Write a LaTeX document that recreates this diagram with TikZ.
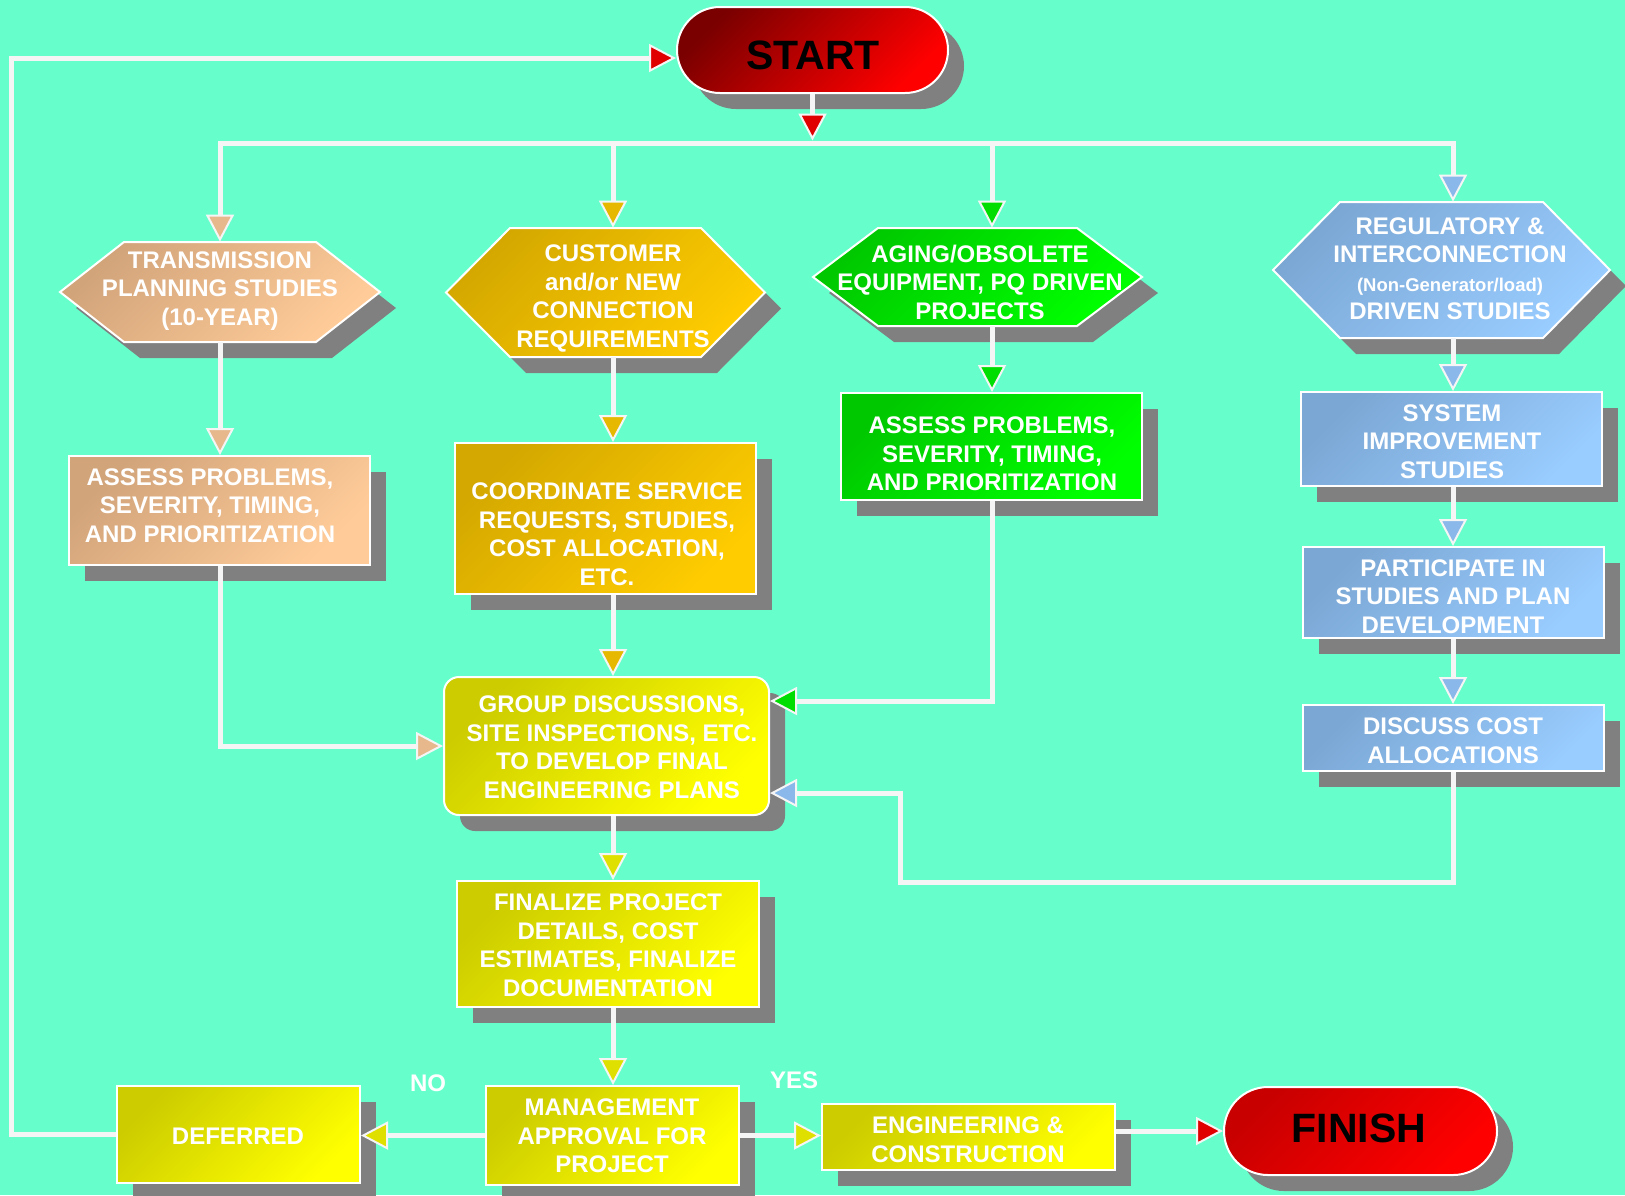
\documentclass[tikz,border=0pt]{standalone}
\usepackage{fontspec}
\setmainfont{Liberation Sans}
\usetikzlibrary{arrows.meta,shapes.misc,shadows,calc}
\definecolor{bg}{HTML}{66FFCC}
\definecolor{linec}{HTML}{F5F5F5}
\definecolor{shadowc}{HTML}{808080}
\definecolor{peachA}{HTML}{D2A47A}
\definecolor{peachB}{HTML}{FFCC99}
\definecolor{peachT}{HTML}{E6B88C}
\definecolor{goldA}{HTML}{D4A800}
\definecolor{goldB}{HTML}{FFCC00}
\definecolor{goldT}{HTML}{E6B800}
\definecolor{greenA}{HTML}{00C800}
\definecolor{greenB}{HTML}{00FF00}
\definecolor{greenT}{HTML}{00DD00}
\definecolor{blueA}{HTML}{7BA7D4}
\definecolor{blueB}{HTML}{99CCFF}
\definecolor{blueT}{HTML}{8AB8EA}
\definecolor{yelA}{HTML}{CCCC00}
\definecolor{yelB}{HTML}{FFFF00}
\definecolor{yelT}{HTML}{E0E000}
\definecolor{redA}{HTML}{7A0000}
\definecolor{redB}{HTML}{FF0000}
\definecolor{finA}{HTML}{C80000}
\definecolor{redT}{HTML}{E00000}
\tikzset{
  conn/.style={draw=linec, line width=2.5pt},
  arr/.style={-{Triangle[width=14pt,length=13.5pt,line width=1pt,fill=#1]}},
  txt/.style={text=white, font=\fontsize{12}{14.25}\selectfont\bfseries, align=center, inner sep=0pt},
  bigtxt/.style={text=black, font=\fontsize{20.5}{24}\selectfont\bfseries, inner sep=0pt},
  shd/.style 2 args={top color=#1, bottom color=#2, shading angle=45},
  box/.style={draw=white, line width=1pt, inner sep=0pt,
    drop shadow={shadow xshift=8pt, shadow yshift=-8pt, fill=shadowc, opacity=1}},
  pill/.style={rounded rectangle, draw=white, line width=1pt, inner sep=0pt,
    drop shadow={shadow xshift=8pt, shadow yshift=-8pt, fill=shadowc, opacity=1}},
}
% name, cx, cy, half width, inset, half height, colour A, colour B
\newcommand\hexa[8]{%
  \fill[shadowc] ({#2-#4+16},{#3+16}) -- ({#2-#4+#5+16},{#3-#6+16}) -- ({#2+#4-#5+16},{#3-#6+16})
    -- ({#2+#4+16},{#3+16}) -- ({#2+#4-#5+16},{#3+#6+16}) -- ({#2-#4+#5+16},{#3+#6+16}) -- cycle;
  \path[draw=white, line width=1pt, shd={#7}{#8}] ({#2-#4},{#3}) -- ({#2-#4+#5},{#3-#6}) -- ({#2+#4-#5},{#3-#6})
    -- ({#2+#4},{#3}) -- ({#2+#4-#5},{#3+#6}) -- ({#2-#4+#5},{#3+#6}) -- cycle;
  \node[minimum width=#4pt, minimum height=#6pt, inner sep=0pt] (#1) at (#2,#3) {};
}
\begin{document}
\begin{tikzpicture}[x=0.5pt, y=-0.5pt]
\fill[bg] (0,0) rectangle (1625,1195);
\useasboundingbox (0,0) rectangle (1625,1195);

% START
\node[pill, shd={redA}{redB}, minimum width=135.5pt, minimum height=43pt] (start) at (812.5,50) {};
\node[bigtxt] (startt) at (813,55) {START};

% bus coordinates
\coordinate (bT) at (220,143);
\coordinate (bC) at (613,143);
\coordinate (bS) at (812.5,143);
\coordinate (bA) at (992,143);
\coordinate (bR) at (1453,143);

% hexagons
\hexa{trans}{220}{292}{160}{64}{50}{peachA}{peachB}
\node[txt] (transt) at (220,291) {TRANSMISSION\\PLANNING STUDIES\\(10-YEAR)};
\hexa{cust}{605.5}{292.5}{159.5}{64}{64.5}{goldA}{goldB}
\node[txt] (custt) at (613,298.5) {CUSTOMER\\and/or NEW\\CONNECTION\\REQUIREMENTS};
\hexa{aging}{977.5}{277}{164.5}{65}{49}{greenA}{greenB}
\node[txt] (agingt) at (980,282) {AGING/OBSOLETE\\EQUIPMENT, PQ DRIVEN\\PROJECTS};
\hexa{reg}{1441.5}{270}{168.5}{67}{68}{blueA}{blueB}
\node[txt] (regt) at (1450,268.5) {REGULATORY \&\\INTERCONNECTION\\{\fontsize{9.25}{14.25}\selectfont (Non-Generator/load)}\\DRIVEN STUDIES};

% boxes
\node[box, shd={peachA}{peachB}, minimum width=150.5pt, minimum height=54.5pt] (assT) at (219.5,510.5) {};
\node[txt] (assTt) at (210,505.5) {ASSESS PROBLEMS,\\SEVERITY, TIMING,\\AND PRIORITIZATION};
\node[box, shd={goldA}{goldB}, minimum width=150.5pt, minimum height=75.5pt] (coord) at (605.5,518.5) {};
\node[txt] (coordt) at (607,534) {COORDINATE SERVICE\\REQUESTS, STUDIES,\\COST ALLOCATION,\\ETC.};
\node[box, shd={greenA}{greenB}, minimum width=150.5pt, minimum height=53.5pt] (assA) at (991.5,446.5) {};
\node[txt] (assAt) at (992,454) {ASSESS PROBLEMS,\\SEVERITY, TIMING,\\AND PRIORITIZATION};
\node[box, shd={blueA}{blueB}, minimum width=150.5pt, minimum height=47pt] (sys) at (1451.5,439) {};
\node[txt] (syst) at (1452,441.5) {SYSTEM\\IMPROVEMENT\\STUDIES};
\node[box, shd={blueA}{blueB}, minimum width=150.5pt, minimum height=45.5pt] (part) at (1453.5,592.5) {};
\node[txt] (partt) at (1453,596.5) {PARTICIPATE IN\\STUDIES AND PLAN\\DEVELOPMENT};
\node[box, shd={blueA}{blueB}, minimum width=150.5pt, minimum height=33pt] (disc) at (1453.5,738) {};
\node[txt] (disct) at (1453,740.5) {DISCUSS COST\\ALLOCATIONS};
\node[box, rounded corners=7.5pt, shd={yelA}{yelB}, minimum width=162.5pt, minimum height=69pt] (grp) at (606.5,746) {};
\node[txt] (grpt) at (612,747) {GROUP DISCUSSIONS,\\SITE INSPECTIONS, ETC.\\TO DEVELOP FINAL\\ENGINEERING PLANS};
\node[box, shd={yelA}{yelB}, minimum width=151pt, minimum height=63pt] (fin) at (608,944) {};
\node[txt] (fint) at (608,945) {FINALIZE PROJECT\\DETAILS, COST\\ESTIMATES, FINALIZE\\DOCUMENTATION};
\node[box, shd={yelA}{yelB}, minimum width=126.5pt, minimum height=49.5pt] (mgmt) at (612.5,1135.5) {};
\node[txt] (mgmtt) at (612,1136) {MANAGEMENT\\APPROVAL FOR\\PROJECT};
\node[box, shd={yelA}{yelB}, minimum width=121.5pt, minimum height=48.5pt] (def) at (238.5,1134.5) {};
\node[txt] (deft) at (238,1136) {DEFERRED};
\node[box, shd={yelA}{yelB}, minimum width=146.5pt, minimum height=33pt] (eng) at (968.5,1137) {};
\node[txt] (engt) at (968,1139.5) {ENGINEERING \&\\CONSTRUCTION};
\node[pill, shd={finA}{redB}, minimum width=136.5pt, minimum height=44pt] (finish) at (1360.5,1131) {};
\node[bigtxt] (finisht) at (1359,1128) {FINISH};

% labels
\node[txt] (no) at (428,1083) {NO};
\node[txt] (yes) at (794,1080) {YES};

% connectors
\draw[conn, line cap=rect] (bT) -- (bR);
\draw[conn, arr=redT] (start.south) -- ($(bS)+(0,-2.5)$);
\draw[conn, arr=peachT] (bT) -- (bT |- trans.north);
\draw[conn, arr=peachT] (trans.south -| bT) -- (assT.north -| bT);
\draw[conn, arr=peachT] (assT.south -| bT) -- (bT |- grp.west) -- (grp.west);
\draw[conn, arr=goldT] (bC) -- (bC |- cust.north);
\draw[conn, arr=goldT] (cust.south -| bC) -- (coord.north -| bC);
\draw[conn, arr=goldT] (coord.south -| bC) -- (grp.north -| bC);
\coordinate (gIn) at (grp.east |- 0,701);
\draw[conn, arr=greenT] (bA) -- (bA |- aging.north);
\draw[conn, arr=greenT] (aging.south -| bA) -- (assA.north -| bA);
\draw[conn, arr=greenT] (assA.south -| bA) -- (bA |- gIn) -- (gIn);
\draw[conn, arr=blueT] (bR) -- (bR |- reg.north);
\draw[conn, arr=blueT] (reg.south -| bR) -- (sys.north -| bR);
\draw[conn, arr=blueT] (sys.south -| bR) -- (part.north -| bR);
\draw[conn, arr=blueT] (part.south -| bR) -- (disc.north -| bR);
\coordinate (r1) at (1453,882);
\coordinate (r2) at (900,882);
\coordinate (r3) at (900,793);
\coordinate (bIn) at (grp.east |- 0,793);
\draw[conn, arr=blueT] (disc.south -| bR) -- (r1) -- (r2) -- (r3) -- (bIn);
\draw[conn, arr=yelT] (grp.south -| bC) -- (fin.north -| bC);
\draw[conn, arr=yelT] (fin.south -| bC) -- (mgmt.north -| bC);
\draw[conn, arr=yelT] (mgmt.west) -- (mgmt.west -| def.east);
\draw[conn, arr=yelT] (mgmt.east) -- (mgmt.east -| eng.west);
\draw[conn, arr=redT] (finish.west -| eng.east) -- (finish.west);
\coordinate (lx) at (11,0);
\coordinate (sIn) at ($(start.west)+(0,8)$);
\draw[conn, arr=redT] (def.west) -- (def.west -| lx) -- (lx |- sIn) -- (sIn);
\end{tikzpicture}
\end{document}
